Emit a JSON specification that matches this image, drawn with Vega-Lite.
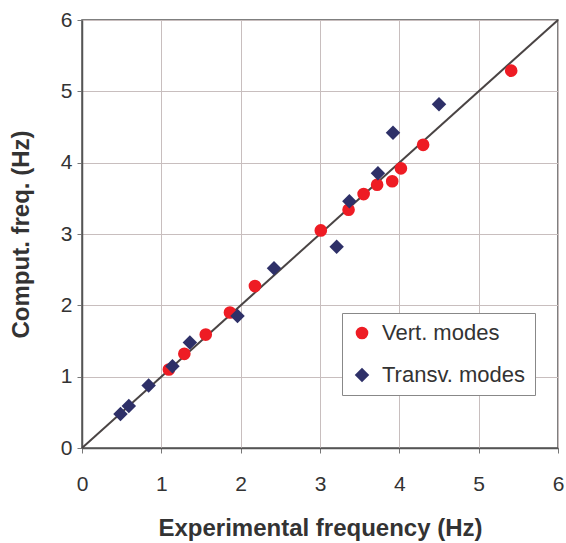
{
  "$schema": "https://vega.github.io/schema/vega-lite/v6.json",
  "width": 476,
  "height": 428,
  "autosize": "none",
  "padding": {"left": 82, "top": 20, "right": 8, "bottom": 95},
  "background": "white",
  "config": {
    "view": {"stroke": "#555555", "strokeWidth": 1.5},
    "font": "Liberation Sans",
    "axis": {
      "labelFont": "Liberation Sans",
      "labelFontSize": 21,
      "labelColor": "#333333",
      "labelFlush": false,
      "format": "d",
      "titleFont": "Liberation Sans",
      "titleFontSize": 24,
      "titleFontWeight": "bold",
      "titleColor": "#333333",
      "gridColor": "#c8bebe",
      "gridWidth": 1,
      "gridOpacity": 1,
      "domainColor": "#555555",
      "domainWidth": 1.5,
      "tickColor": "#777777",
      "tickSize": 5
    }
  },
  "layer": [
    {
      "data": {"values": [{"x": 0, "y": 0}, {"x": 6, "y": 6}]},
      "mark": {"type": "line", "color": "#4a4444", "strokeWidth": 2},
      "encoding": {
        "x": {"field": "x", "type": "quantitative"},
        "y": {"field": "y", "type": "quantitative"}
      }
    },
    {
      "data": {
        "values": [
          {"exp": 1.095, "comp": 1.10, "mode": "Vert. modes"},
          {"exp": 1.29, "comp": 1.32, "mode": "Vert. modes"},
          {"exp": 1.56, "comp": 1.59, "mode": "Vert. modes"},
          {"exp": 1.865, "comp": 1.90, "mode": "Vert. modes"},
          {"exp": 2.18, "comp": 2.27, "mode": "Vert. modes"},
          {"exp": 3.01, "comp": 3.05, "mode": "Vert. modes"},
          {"exp": 3.36, "comp": 3.34, "mode": "Vert. modes"},
          {"exp": 3.55, "comp": 3.56, "mode": "Vert. modes"},
          {"exp": 3.72, "comp": 3.69, "mode": "Vert. modes"},
          {"exp": 3.91, "comp": 3.74, "mode": "Vert. modes"},
          {"exp": 4.02, "comp": 3.92, "mode": "Vert. modes"},
          {"exp": 4.30, "comp": 4.25, "mode": "Vert. modes"},
          {"exp": 5.41, "comp": 5.29, "mode": "Vert. modes"},
          {"exp": 0.485, "comp": 0.477, "mode": "Transv. modes"},
          {"exp": 0.59, "comp": 0.59, "mode": "Transv. modes"},
          {"exp": 0.84, "comp": 0.875, "mode": "Transv. modes"},
          {"exp": 1.14, "comp": 1.146, "mode": "Transv. modes"},
          {"exp": 1.36, "comp": 1.48, "mode": "Transv. modes"},
          {"exp": 1.96, "comp": 1.85, "mode": "Transv. modes"},
          {"exp": 2.42, "comp": 2.52, "mode": "Transv. modes"},
          {"exp": 3.21, "comp": 2.82, "mode": "Transv. modes"},
          {"exp": 3.37, "comp": 3.46, "mode": "Transv. modes"},
          {"exp": 3.73, "comp": 3.85, "mode": "Transv. modes"},
          {"exp": 3.92, "comp": 4.42, "mode": "Transv. modes"},
          {"exp": 4.50, "comp": 4.82, "mode": "Transv. modes"}
        ]
      },
      "mark": {"type": "point", "filled": true, "opacity": 1, "strokeWidth": 0},
      "encoding": {
        "x": {
          "field": "exp", "type": "quantitative",
          "scale": {"domain": [0, 6], "nice": false},
          "axis": {"title": "Experimental frequency (Hz)", "values": [0, 1, 2, 3, 4, 5, 6], "labelPadding": 20, "titlePadding": 22, "grid": true}
        },
        "y": {
          "field": "comp", "type": "quantitative",
          "scale": {"domain": [0, 6], "nice": false},
          "axis": {"title": "Comput. freq. (Hz)", "values": [0, 1, 2, 3, 4, 5, 6], "labelPadding": 5, "titlePadding": 27, "grid": true}
        },
        "color": {
          "field": "mode", "type": "nominal",
          "scale": {"domain": ["Vert. modes", "Transv. modes"], "range": ["#ee1c24", "#2e3068"]},
          "legend": {
            "title": null,
            "orient": "none",
            "legendX": 260,
            "legendY": 293,
            "fillColor": "white",
            "strokeColor": "#888888",
            "padding": 9,
            "labelFont": "Liberation Sans",
            "labelFontSize": 22,
            "labelColor": "#333333",
            "labelOffset": 9,
            "rowPadding": 20,
            "symbolSize": 110,
            "symbolStrokeWidth": 0
          }
        },
        "shape": {
          "field": "mode", "type": "nominal",
          "scale": {"domain": ["Vert. modes", "Transv. modes"], "range": ["circle", "diamond"]},
          "legend": null
        },
        "size": {
          "field": "mode", "type": "nominal",
          "scale": {"domain": ["Vert. modes", "Transv. modes"], "range": [160, 210]},
          "legend": null
        }
      }
    }
  ]
}
